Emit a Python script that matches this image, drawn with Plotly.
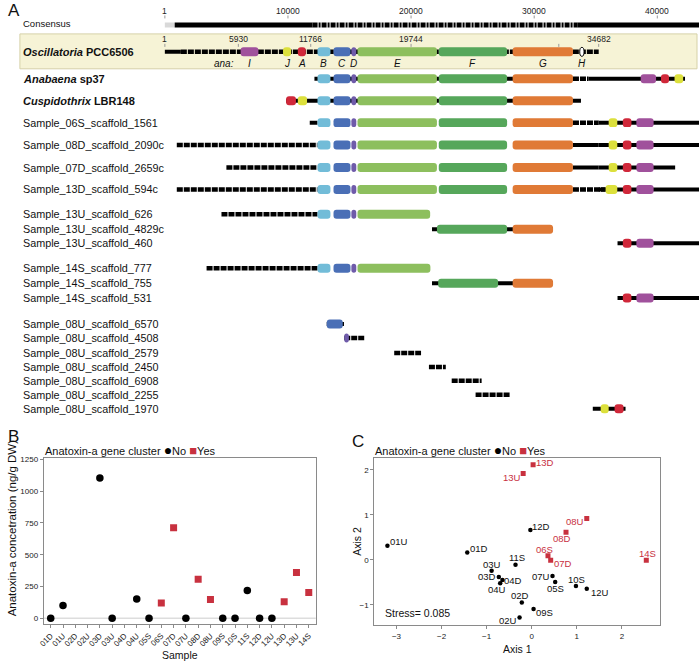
import plotly.graph_objects as go

W, H = 699, 661
FONT = "Liberation Sans, Arial, Helvetica, sans-serif"
RED = "#C8313F"

# ======================= Panel A data (alignment / consensus bp) =======================
consensus_ticks = [1, 10000, 20000, 30000, 40000]
consensus_gap = [0, 800]                # light grey start
consensus_solid = [(800, 12000), (33500, 43400)]
consensus_striped = [(12000, 33500)]
osc_tick_labels = ["1", "5930", "11766", "19744", "34682"]
osc_tick_pos = [1, 5970, 11850, 20000, 35240]
osc_extra_tick = [32000]

gene_colors = {"I": "#A0519C", "J": "#DCE03C", "A": "#D0283A", "B": "#72BCD8",
               "C": "#4A6FB6", "D": "#6F5BAA", "E": "#8DBF5E", "F": "#56A75B",
               "G": "#E07A36", "H": "#FFFFFF"}

row_names = [
    "<b><i>Oscillatoria</i> PCC6506</b>", "<b><i>Anabaena</i> sp37</b>",
    "<b><i>Cuspidothrix</i> LBR148</b>",
    "Sample_06S_scaffold_1561", "Sample_08D_scaffold_2090c", "Sample_07D_scaffold_2659c",
    "Sample_13D_scaffold_594c",
    "Sample_13U_scaffold_626", "Sample_13U_scaffold_4829c", "Sample_13U_scaffold_460",
    "Sample_14S_scaffold_777", "Sample_14S_scaffold_755", "Sample_14S_scaffold_531",
    "Sample_08U_scaffold_6570", "Sample_08U_scaffold_4508", "Sample_08U_scaffold_2579",
    "Sample_08U_scaffold_2450", "Sample_08U_scaffold_6908", "Sample_08U_scaffold_2255",
    "Sample_08U_scaffold_1970",
]

# solid backbone segments per row
backbone_solid = [
    [(0, 1300)],
    [(12150, 33150), (34400, 42250)],
    [(9850, 33800)],
    [(11770, 12400), (35240, 43400)],
    [(33150, 35240), (35240, 43400)],
    [(33150, 35240), (35240, 41450)],
    [(35240, 43400)],
    [],
    [(21700, 31530)],
    [(36770, 43400)],
    [],
    [(21700, 31530)],
    [(36770, 43400)],
    [(13150, 14550)],
    [],
    [],
    [],
    [],
    [],
    [(34760, 37420)],
]
# striped backbone segments per row
backbone_striped = [
    [(1300, 35240)],
    [(33150, 34400)],
    [],
    [(33150, 35240)],
    [(970, 12400)],
    [(5000, 12400)],
    [(970, 12400), (33150, 35800)],
    [(4600, 12400)],
    [],
    [],
    [(3390, 12400)],
    [],
    [],
    [],
    [(14570, 16200)],
    [(18630, 20810)],
    [(21450, 22820)],
    [(23300, 25730)],
    [(25240, 28060)],
    [],
]
core = [("B", 12400, 13450), ("C", 13700, 15080), ("D", 15150, 15550),
        ("E", 15650, 22100), ("F", 22250, 27800), ("G", 28250, 33150)]
tail = [("J", 36050, 36750), ("A", 37200, 37900), ("I", 38300, 39700)]
row_genes = [
    [("I", 6150, 7600), ("J", 9600, 10250), ("A", 10800, 11450)] + core,
    core + [("I", 38650, 39900), ("A", 40300, 40950), ("J", 41400, 42100)],
    [("A", 9850, 10650), ("J", 10800, 11550)] + core,
    core + tail,
    core + tail,
    core + tail,
    core + [("J", 35800, 36750), ("A", 37200, 37900), ("I", 38300, 39700)],
    core[:3] + [("E", 15650, 21550)],
    [("F", 22100, 27800), ("G", 28250, 31530)],
    [("A", 37200, 37900), ("I", 38300, 39700)],
    core[:3] + [("E", 15650, 21570)],
    [("F", 22200, 27070), ("G", 28250, 31530)],
    [("A", 37200, 37900), ("I", 38300, 39700)],
    [("C", 13150, 14450)],
    [("D", 14570, 14950)],
    [], [], [], [],
    [("J", 35400, 36050), ("A", 36530, 37260)],
]
osc_H = (33700, 34050)
osc_gene_labels = ["I", "J", "A", "B", "C", "D", "E", "F", "G", "H"]

# ======================= Panel B data =======================
samples = ["01D", "01U", "02D", "02U", "03D", "03U", "04D", "04U", "05S", "06S", "07D",
           "07U", "08D", "08U", "09S", "10S", "11S", "12D", "12U", "13D", "13U", "14S"]
anatoxin = [0, 100, None, None, 1105, 0, None, 150, 0, 120, 712, 0, 307, 147, 0, 0,
            217, 0, 0, 130, 360, 203]
cluster_b = ["No", "No", None, None, "No", "No", None, "No", "No", "Yes", "Yes", "No",
             "Yes", "Yes", "No", "No", "No", "No", "No", "Yes", "Yes", "Yes"]

# ======================= Panel C data (NMDS) =======================
nmds_sample = ["01U", "01D", "12D", "11S", "03U", "03D", "04D", "04U", "02D", "02U", "09S",
               "07U", "05S", "10S", "12U", "13D", "13U", "08U", "08D", "06S", "07D", "14S"]
axis1 = [-3.20, -1.43, -0.03, -0.36, -0.89, -0.73, -0.65, -0.70, -0.22, -0.27, 0.04,
         0.46, 0.52, 0.98, 1.22, 0.03, -0.19, 1.22, 0.76, 0.36, 0.42, 2.54]
axis2 = [0.31, 0.16, 0.66, -0.11, -0.24, -0.38, -0.45, -0.52, -0.95, -1.28, -1.09,
         -0.36, -0.49, -0.58, -0.64, 2.11, 1.92, 0.92, 0.61, 0.09, -0.01, -0.01]
cluster_c = ["No"] * 15 + ["Yes"] * 7
stress = 0.085

# ---- label offsets for NMDS labels (pixels; style only) ----
lab_dx = [12, 12, 11, 1, 0, -12, 11, -3, -2, -12, 11, -11, 0, 1, 13, 12, -11, -12, -4, -3, 12, 1]
lab_dy = [-4, -4, -4, -7, -6, 0, 0, 6, -7, 3, 4, 0, 7, -6, 4, -2, 4, 3, 6, -6, 3, -7]

# row vertical positions (pixels, layout only)
row_y = [50, 77, 99, 121, 143.5, 166, 188, 213, 228, 242, 267, 282, 297,
         323, 337, 352, 366, 380, 394, 408]
CONS_Y = 23

# ======================= Build figure =======================
PX_PER_BP = 0.0124
X0_PX = 161
xr0 = -X0_PX / PX_PER_BP
xr1 = xr0 + W / PX_PER_BP
A_BOTTOM = 430

fig = go.Figure()
shapes = []
ann = []


def rrect(x0, x1, yc, hh=4.5, r_px=3.0):
    rx = min(r_px / PX_PER_BP, (x1 - x0) / 2)
    ry = min(r_px, hh)
    y0, y1 = yc - hh, yc + hh
    return (f"M{x0+rx},{y0} L{x1-rx},{y0} Q{x1},{y0} {x1},{y0+ry} L{x1},{y1-ry} "
            f"Q{x1},{y1} {x1-rx},{y1} L{x0+rx},{y1} Q{x0},{y1} {x0},{y1-ry} "
            f"L{x0},{y0+ry} Q{x0},{y0} {x0+rx},{y0} Z")


def seg_xy(segs, yv):
    xs, ys = [], []
    for a, b in segs:
        xs += [a, b, None]
        ys += [yv, yv, None]
    return xs, ys


# Oscillatoria highlight box
shapes.append(dict(type="rect", xref="paper", yref="y", x0=15 / W, x1=697 / W, y0=32, y1=67,
                   fillcolor="#F6F3D6", line=dict(color="#D6D1A8", width=1), layer="below"))

# consensus line
fig.add_trace(go.Scatter(x=consensus_gap, y=[CONS_Y] * 2, mode="lines",
                         line=dict(color="#D9D9D9", width=5), xaxis="x", yaxis="y",
                         hoverinfo="skip", showlegend=False))
cx, cy = seg_xy(consensus_solid, CONS_Y)
fig.add_trace(go.Scatter(x=cx, y=cy, mode="lines", line=dict(color="black", width=5),
                         xaxis="x", yaxis="y", hoverinfo="skip", showlegend=False))
cx, cy = seg_xy(consensus_striped, CONS_Y)
fig.add_trace(go.Scatter(x=cx, y=cy, mode="lines", line=dict(color="black", width=5, dash="5px,1px,2px,1px"),
                         xaxis="x", yaxis="y", hoverinfo="skip", showlegend=False))

# backbones
sx, sy, tx, ty = [], [], [], []
for yv, sol, stp in zip(row_y, backbone_solid, backbone_striped):
    a, b = seg_xy(sol, yv)
    sx += a
    sy += b
    a, b = seg_xy(stp, yv)
    tx += a
    ty += b
fig.add_trace(go.Scatter(x=sx, y=sy, mode="lines", line=dict(color="black", width=4),
                         xaxis="x", yaxis="y", hoverinfo="skip", showlegend=False))
fig.add_trace(go.Scatter(x=tx, y=ty, mode="lines", line=dict(color="black", width=4.5, dash="6px,1px"),
                         xaxis="x", yaxis="y", hoverinfo="skip", showlegend=False))

# genes
for yv, genes in zip(row_y, row_genes):
    for g, a, b in genes:
        shapes.append(dict(type="path", xref="x", yref="y", path=rrect(a, b, yv),
                           fillcolor=gene_colors[g], line=dict(width=0), layer="above"))
# H (white oval) in Oscillatoria
shapes.append(dict(type="circle", xref="x", yref="y", x0=osc_H[0], x1=osc_H[1],
                   y0=row_y[0] - 4.5, y1=row_y[0] + 4.5, fillcolor="white",
                   line=dict(color="black", width=1), layer="above"))

# gene labels under Oscillatoria
osc_centers = {g: (a + b) / 2 for g, a, b in row_genes[0]}
osc_centers["H"] = sum(osc_H) / 2
for g in osc_gene_labels:
    ann.append(dict(x=osc_centers[g], y=62, xref="x", yref="y", text=f"<i>{g}</i>",
                    showarrow=False, font=dict(size=10, color="#111"), xanchor="center",
                    yanchor="middle"))
ann.append(dict(x=233 / W, y=62, xref="paper", yref="y", text="<i>ana:</i>", showarrow=False,
                font=dict(size=10, color="#111"), xanchor="right", yanchor="middle"))

# consensus ticks
for t in consensus_ticks:
    ann.append(dict(x=t, y=9.5, xref="x", yref="y", text=str(t), showarrow=False,
                    font=dict(size=8.5, color="#222"), xanchor="center", yanchor="middle"))
    shapes.append(dict(type="line", xref="x", yref="y", x0=t, x1=t, y0=13.5, y1=16.5,
                       line=dict(color="#999", width=1)))
# oscillatoria ticks
for lab, t in zip(osc_tick_labels, osc_tick_pos):
    ann.append(dict(x=t, y=37.5, xref="x", yref="y", text=lab, showarrow=False,
                    font=dict(size=8.5, color="#222"), xanchor="center", yanchor="middle"))
    shapes.append(dict(type="line", xref="x", yref="y", x0=t, x1=t, y0=42, y1=45,
                       line=dict(color="#999", width=1)))
for t in osc_extra_tick:
    shapes.append(dict(type="line", xref="x", yref="y", x0=t, x1=t, y0=42, y1=45,
                       line=dict(color="#999", width=1)))

# row labels
ann.append(dict(x=16 / W, y=CONS_Y - 1, xref="paper", yref="y", text="Consensus", showarrow=False,
                font=dict(size=9.5, color="#111"), xanchor="left", yanchor="middle"))
for i, (nm, yv) in enumerate(zip(row_names, row_y)):
    ann.append(dict(x=16 / W, y=yv, xref="paper", yref="y", text=nm, showarrow=False,
                    font=dict(size=11 if i < 3 else 10.8, color="#111"),
                    xanchor="left", yanchor="middle"))

# ======================= Panel B traces =======================
for cl, sym, col, sz in [("No", "circle", "black", 7.5), ("Yes", "square", RED, 7)]:
    xs = [s for s, v, c in zip(samples, anatoxin, cluster_b) if c == cl and v is not None]
    ys = [v for s, v, c in zip(samples, anatoxin, cluster_b) if c == cl and v is not None]
    fig.add_trace(go.Scatter(x=xs, y=ys, mode="markers", xaxis="x2", yaxis="y2",
                             marker=dict(symbol=sym, color=col, size=sz, line=dict(width=0)),
                             hoverinfo="skip", showlegend=False))
shapes.append(dict(type="line", xref="x2 domain", yref="y2", x0=0, x1=1, y0=0, y1=0,
                   line=dict(color="#DDDDDD", width=1.5), layer="below"))

# ======================= Panel C traces =======================
for cl, sym, col, sz in [("No", "circle", "black", 4.5), ("Yes", "square", RED, 5)]:
    xs = [a for a, c in zip(axis1, cluster_c) if c == cl]
    ys = [b for b, c in zip(axis2, cluster_c) if c == cl]
    fig.add_trace(go.Scatter(x=xs, y=ys, mode="markers", xaxis="x3", yaxis="y3",
                             marker=dict(symbol=sym, color=col, size=sz, line=dict(width=0)),
                             hoverinfo="skip", showlegend=False))
for s, a, b, c, dx, dy in zip(nmds_sample, axis1, axis2, cluster_c, lab_dx, lab_dy):
    ann.append(dict(x=a, y=b, xref="x3", yref="y3", text=s, showarrow=False,
                    xshift=dx, yshift=-dy, xanchor="center", yanchor="middle",
                    font=dict(size=9.5, color=RED if c == "Yes" else "#111")))

# ======================= titles / legends =======================
def pann(text, xpx, ypx, size, **kw):
    d = dict(x=xpx / W, y=1 - ypx / H, xref="paper", yref="paper", text=text, showarrow=False,
             font=dict(size=size, color="#111"), xanchor=kw.pop("xanchor", "center"),
             yanchor=kw.pop("yanchor", "middle"))
    d.update(kw)
    ann.append(d)

pann("A", 1, 9, 17, xanchor="left")
pann("B", 1, 436, 17, xanchor="left")
pann("C", 347, 441, 17, xanchor="left")
legend_txt = ("Anatoxin-a gene cluster <span style='color:black;font-size:14px'>●</span>No "
              f"<span style='color:{RED};font-size:13px'>■</span>Yes")
pann(legend_txt, 38, 449, 11, xanchor="left")
pann(legend_txt, 371, 449, 11, xanchor="left")
pann("Anatoxin-a concetration (ng/g DW)", 7, 527, 11.5, textangle=-90)
pann("Sample", 176, 655, 10.5)
pann("Axis 1", 516, 649, 10.5)
pann("Axis 2", 355, 541, 10.5, textangle=-90)
pann(f"Stress= {stress}", 381, 613, 10.5, xanchor="left")

axis_box = dict(showline=True, mirror=True, linecolor="#8A8A8A", linewidth=1, ticks="outside",
                ticklen=3, tickcolor="#8A8A8A", showgrid=False, zeroline=False,
                tickfont=dict(size=8, color="#222", family=FONT))

fig.update_layout(
    width=W, height=H, margin=dict(l=0, r=0, t=0, b=0),
    paper_bgcolor="white", plot_bgcolor="rgba(0,0,0,0)",
    font=dict(family=FONT, color="#111"),
    hovermode=False, showlegend=False,
    xaxis=dict(domain=[0, 1], range=[xr0, xr1], visible=False, fixedrange=True),
    yaxis=dict(domain=[1 - A_BOTTOM / H, 1], range=[A_BOTTOM, 0], visible=False, fixedrange=True),
    xaxis2=dict(domain=[39 / W, 313 / W], anchor="y2", type="category",
                categoryorder="array", categoryarray=samples, tickvals=samples,
                range=[-0.57, len(samples) - 1 + 0.57], tickangle=-45, **axis_box),
    yaxis2=dict(domain=[1 - 624 / H, 1 - 457 / H], anchor="x2", range=[-47, 1265],
                tickvals=[0, 250, 500, 750, 1000, 1250], **axis_box),
    xaxis3=dict(domain=[372 / W, 660 / W], anchor="y3", range=[-3.49, 2.85],
                tickvals=[-3, -2, -1, 0, 1, 2], ticktext=["\u22123", "\u22122", "\u22121", "0", "1", "2"],
                **axis_box),
    yaxis3=dict(domain=[1 - 625 / H, 1 - 457 / H], anchor="x3", range=[-1.45, 2.27],
                tickvals=[-1, 0, 1, 2], ticktext=["\u22121", "0", "1", "2"], **axis_box),
    shapes=shapes, annotations=ann,
)

fig.write_html("out.html", config={"displayModeBar": False},
               post_script="document.body.style.margin='0px';document.body.style.overflow='hidden';")
